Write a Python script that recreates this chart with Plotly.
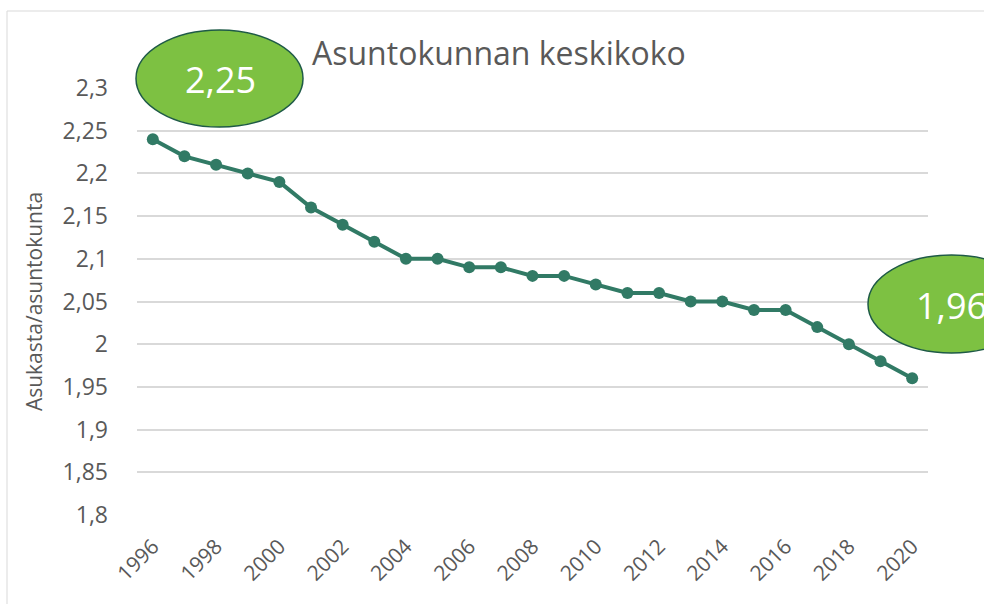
import plotly.graph_objects as go

years = list(range(1996, 2021))
values = [2.24, 2.22, 2.21, 2.20, 2.19, 2.16, 2.14, 2.12, 2.10, 2.10, 2.09, 2.09,
          2.08, 2.08, 2.07, 2.06, 2.06, 2.05, 2.05, 2.04, 2.04, 2.02, 2.00, 1.98, 1.96]
y_ticks = [1.8, 1.85, 1.9, 1.95, 2.0, 2.05, 2.1, 2.15, 2.2, 2.25, 2.3]
y_tick_labels = ["1,8", "1,85", "1,9", "1,95", "2", "2,05", "2,1", "2,15", "2,2", "2,25", "2,3"]
x_ticks = list(range(1996, 2021, 2))
x_tick_labels = [str(y) for y in x_ticks]
title_text = "Asuntokunnan keskikoko"
y_title = "Asukasta/asuntokunta"
bubble_labels = ["2,25", "1,96"]

W, H = 984, 604
L, R, T, B = 137, 56, 88, 89
pw, ph = W - L - R, H - T - B

def px(x):
    return (x - L) / pw

def py(y):
    return (H - B - y) / ph

FONT = "'Open Sans', Lato, sans-serif"
GRAY = "#595959"
LINE = "#317A65"

fig = go.Figure()
fig.add_trace(go.Scatter(
    x=years, y=values, mode="lines+markers",
    line=dict(color=LINE, width=4),
    marker=dict(color=LINE, size=12),
    hoverinfo="skip", showlegend=False,
))

shapes = [
    dict(type="rect", xref="paper", yref="paper", x0=px(7), x1=px(1000), y0=py(620), y1=py(11),
         line=dict(color="#D9D9D9", width=1), fillcolor="rgba(0,0,0,0)", layer="below"),
    dict(type="circle", xref="paper", yref="paper", x0=px(136), x1=px(303), y0=py(127), y1=py(30),
         line=dict(color="#1E5A46", width=1.5), fillcolor="#7DC142", layer="above"),
    dict(type="circle", xref="paper", yref="paper", x0=px(868), x1=px(1035), y0=py(353), y1=py(255),
         line=dict(color="#1E5A46", width=1.5), fillcolor="#7DC142", layer="above"),
]

annotations = [
    dict(text=title_text, xref="paper", yref="paper", x=px(310), y=py(53), xanchor="left", yanchor="middle",
         showarrow=False, font=dict(family=FONT, size=32, color=GRAY)),
    dict(text=bubble_labels[0], xref="paper", yref="paper", x=px(220), y=py(80), xanchor="center", yanchor="middle",
         showarrow=False, font=dict(family=FONT, size=36, color="white")),
    dict(text=bubble_labels[1], xref="paper", yref="paper", x=px(914), y=py(305), xanchor="left", yanchor="middle",
         showarrow=False, font=dict(family=FONT, size=36, color="white")),
]

fig.update_layout(
    width=W, height=H,
    margin=dict(l=L, r=R, t=T, b=B, autoexpand=False),
    paper_bgcolor="white", plot_bgcolor="white",
    shapes=shapes, annotations=annotations,
    font=dict(family=FONT, color=GRAY),
    xaxis=dict(range=[1995.5, 2020.5], tickvals=x_ticks, ticktext=x_tick_labels, tickangle=-45,
               showgrid=False, zeroline=False, showline=False, ticks="",
               ticklabelstandoff=14,
               tickfont=dict(family=FONT, size=21, color=GRAY)),
    yaxis=dict(range=[1.8, 2.3], tickvals=y_ticks, ticktext=y_tick_labels,
               showgrid=True, gridcolor="#D9D9D9", gridwidth=1.5, zeroline=False, showline=False, ticks="",
               ticklabelstandoff=28,
               tickfont=dict(family=FONT, size=23, color=GRAY),
               title=dict(text=y_title, font=dict(family=FONT, size=21, color=GRAY), standoff=14)),
)

fig.write_html("out.html", config={"displayModeBar": False},
               post_script="document.body.style.margin='0';document.body.style.overflow='hidden';")
